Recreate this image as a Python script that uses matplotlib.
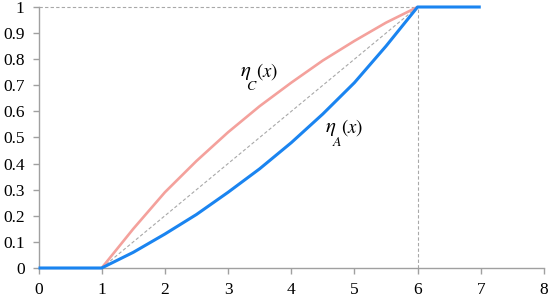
import matplotlib
matplotlib.use("Agg")
import matplotlib.pyplot as plt

plt.rcParams['font.family'] = ['Liberation Serif', 'DejaVu Serif']
plt.rcParams['mathtext.fontset'] = 'stix'

# Data
x_a = [0, 1, 1.5, 2, 2.5, 3, 3.5, 4, 4.5, 5, 5.5, 6, 7]
eta_a = [0, 0, 0.06, 0.13, 0.205, 0.29, 0.38, 0.48, 0.59, 0.71, 0.85, 1.0, 1.0]
x_c = [1, 1.5, 2, 2.5, 3, 3.5, 4, 4.5, 5, 5.5, 6]
eta_c = [0, 0.15, 0.29, 0.41, 0.52, 0.62, 0.71, 0.795, 0.87, 0.94, 1.0]
x_diag = [1, 6]
y_diag = [0, 1]
x_vert = [6, 6]
y_vert = [0, 1]
x_horiz = [0, 6]
y_horiz = [1, 1]
x_ticks = [0, 1, 2, 3, 4, 5, 6, 7, 8]
y_ticks = [0, 0.1, 0.2, 0.3, 0.4, 0.5, 0.6, 0.7, 0.8, 0.9, 1]
y_ticklabels = ['0', '0.1', '0.2', '0.3', '0.4', '0.5', '0.6', '0.7', '0.8', '0.9', '1']

fig = plt.figure(figsize=(5.5, 2.98), dpi=100)
ax = fig.add_axes([0.07, 0.1007, 0.919, 0.8758])

dash_kw = dict(color='#a8a8a8', lw=0.8, ls=(0, (3, 2)), clip_on=False)
ax.plot(x_diag, y_diag, **dash_kw)
ax.plot(x_vert, y_vert, **dash_kw)
ax.plot(x_horiz, y_horiz, **dash_kw)

ax.plot(x_c, eta_c, color='#f4a19c', lw=1.9, solid_capstyle='butt', clip_on=False, zorder=3)
ax.plot(x_a, eta_a, color='#1a84f0', lw=2.2, solid_capstyle='butt', clip_on=False, zorder=4)


def label(x, y, sub, dx):
    ax.annotate(r'$\eta$', (x, y), fontsize=15, ha='left', va='baseline')
    ax.annotate(r'$' + sub + '$', (x, y), xytext=(dx, -10), textcoords='offset points',
                fontsize=10, ha='left', va='baseline')
    ax.annotate(r'$(x)$', (x, y), xytext=(11.5, -0.5), textcoords='offset points',
                fontsize=13.5, ha='left', va='baseline')


label(3.19, 0.735, 'C', 4.5)
label(4.53, 0.52, 'A', 5.0)

ax.set_xlim(0, 8)
ax.set_ylim(0, 1)
ax.set_xticks(x_ticks)
ax.set_xticklabels([str(t) for t in x_ticks])
ax.set_yticks(y_ticks)
ax.set_yticklabels(y_ticklabels)

for s in ['top', 'right']:
    ax.spines[s].set_visible(False)
for s in ['left', 'bottom']:
    ax.spines[s].set_color('#a0a0a0')
    ax.spines[s].set_linewidth(1.0)
ax.tick_params(axis='both', colors='#a0a0a0', labelcolor='black', labelsize=12.5,
               length=4, width=1.0, direction='out')
ax.tick_params(axis='y', pad=6)
ax.tick_params(axis='x', pad=6)

fig.savefig('out.png', dpi=100)
